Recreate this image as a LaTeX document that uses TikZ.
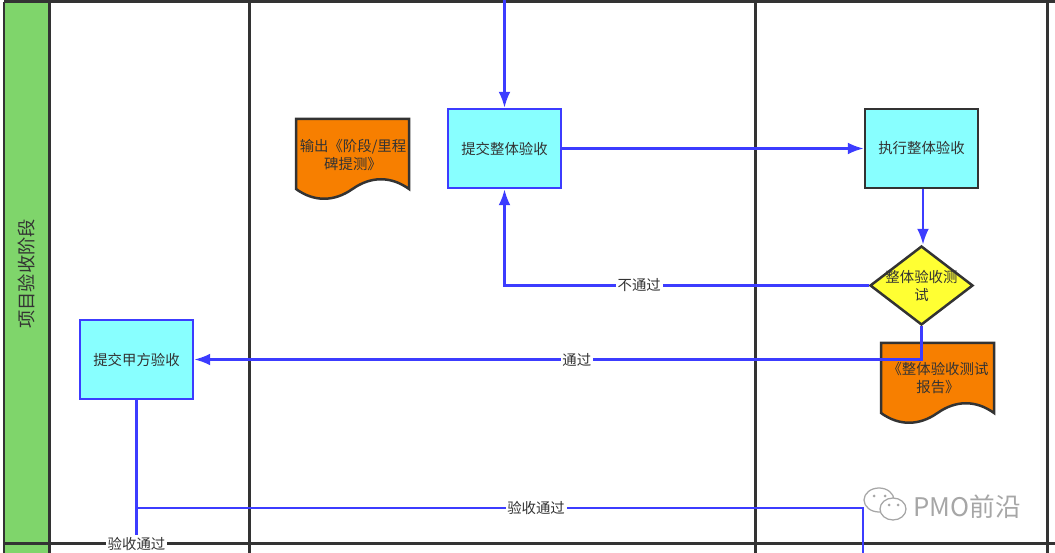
\documentclass[tikz,border=0pt]{standalone}
\usepackage{fontspec}
\setmainfont{Noto Sans CJK SC}
\usetikzlibrary{shapes.geometric, arrows.meta}
\definecolor{lanegreen}{HTML}{7FD56B}
\definecolor{laneline}{HTML}{333333}
\definecolor{boxcyan}{HTML}{88FFFF}
\definecolor{flowblue}{HTML}{3C3CFF}
\definecolor{docorange}{HTML}{F77F00}
\definecolor{checkyellow}{HTML}{FFFF33}
\tikzstyle{lane} = [line width=0.06cm, color=laneline]
\tikzstyle{flow} = [line width=0.05cm, color=flowblue, ->, >={Latex[length=0.32cm,width=0.24cm]}]
\tikzstyle{flowline} = [line width=0.045cm, color=flowblue]
\tikzstyle{task} = [rectangle, draw=flowblue, line width=0.05cm, fill=boxcyan, minimum width=2.26cm, minimum height=1.58cm, text=laneline, font=\fontsize{8.2pt}{10.2pt}\selectfont]
\tikzstyle{doc} = [draw=laneline, line width=0.05cm, fill=docorange]
\tikzstyle{txt} = [align=center, inner sep=0pt, text=laneline, font=\fontsize{8.2pt}{10.2pt}\selectfont]
\tikzstyle{flowlabel} = [fill=white, inner sep=1pt, text=laneline, font=\fontsize{8.2pt}{10.2pt}\selectfont]
\tikzstyle{bubble} = [color=gray!70, fill=white, line width=0.025cm]
\newcommand{\docpath}{(0,0) -- (113,0) -- (113,70) .. controls (95,57) and (75,57) .. (56.5,70) .. controls (38,83) and (18,83) .. (0,70) -- cycle}
\begin{document}
\begin{tikzpicture}[x=0.02cm, y=-0.02cm]
\useasboundingbox (0,0) rectangle (1055,553);

% lanes

\fill[lanegreen] (4,2) rectangle (49,553);
\draw [lane] (4,2) -- (1055,2);
\draw [lane] (4,544) -- (1055,544);
\draw [lane] (4,2) -- (4,553);
\draw [lane] (49,2) -- (49,553);
\draw [lane] (249,2) -- (249,553);
\draw [lane] (755,2) -- (755,553);
\draw [lane] (1047,2) -- (1047,553);

\node[rotate=90, text=laneline, inner sep=0pt, font=\fontsize{10.4pt}{12pt}\selectfont] (phase) at (27,274) {项目验收阶段};

% documents

\draw [doc, shift={(296,119)}] \docpath;
\node[txt] (doc_stage) at (353,155) {输出《阶段/里程\\碑提测》};

\draw [doc, shift={(881,343)}] \docpath;
\node[txt] (doc_test) at (938,378) {《整体验收测试\\报告》};

% boxes

\node[task] (submit) at (504.5,148.5) {提交整体验收};
\node[task, draw=laneline] (execute) at (921.5,148.5) {执行整体验收};
\node[task] (client) at (136.5,359.5) {提交甲方验收};

\node[diamond, draw=laneline, line width=0.05cm, fill=checkyellow, aspect=1.3, minimum width=2.06cm, minimum height=1.58cm, inner sep=0pt] (check) at (921.5,285.5) {};
\node[txt] (check_text) at (921.5,286) {整体验收测\\试};

\coordinate (from_top) at (504.5,0);
\coordinate (exit_b) at (863,553);
\coordinate (turn_b) at (863,508);

% connectors

\draw [flow] (from_top) -- (submit.north);
\draw [flow] (submit.east) -- (execute.west);
\draw [flow] ([xshift=0.03cm]execute.south) -- ([xshift=0.03cm]check.north);
\draw [flow] (check.west) -| node[flowlabel, pos=0.315] (label_fail) {不通过} (submit.south);
\draw [flow] (check.south) |- node[flowlabel, pos=0.737] (label_pass) {通过} (client.east);
\draw [flowline] (client.south) |- node[flowlabel, pos=0.775] (label_accept_b) {验收通过} (turn_b) -- (exit_b);

\node[flowlabel] (label_accept_a) at (136.5,544) {验收通过};
\draw [flowline] (client.south) -- (label_accept_a);

% watermark

\draw [bubble] (879,500) ellipse (15 and 12);
\draw [bubble] (893,509) ellipse (13 and 11);
\fill [gray!70] (874,496) circle (1.5);
\fill [gray!70] (885,496) circle (1.5);
\fill [gray!70] (889,505) circle (1.5);
\fill [gray!70] (898,505) circle (1.5);
\node[text=gray!70, inner sep=0pt, font=\fontsize{14.6pt}{16pt}\selectfont] (brand) at (967,507) {PMO前沿};

\end{tikzpicture}
\end{document}
